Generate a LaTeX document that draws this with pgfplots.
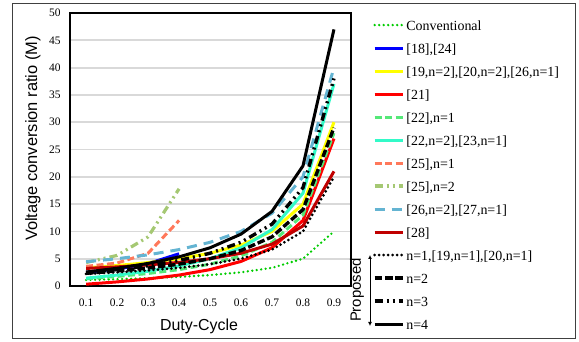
\documentclass[border=0pt]{standalone}
\usepackage{fontspec}
\setmainfont{Liberation Serif}
\setsansfont{Liberation Sans}
\usepackage{pgfplots}
\pgfplotsset{compat=1.18}
\usetikzlibrary{arrows.meta}
\definecolor{cgreen}{RGB}{0,204,0}
\definecolor{cblue}{RGB}{0,0,255}
\definecolor{cyellow}{RGB}{255,255,0}
\definecolor{cred}{RGB}{255,0,0}
\definecolor{clgreen}{RGB}{85,232,120}
\definecolor{caqua}{RGB}{51,250,200}
\definecolor{csalmon}{RGB}{255,120,90}
\definecolor{colive}{RGB}{165,200,115}
\definecolor{clblue}{RGB}{100,180,210}
\definecolor{cdred}{RGB}{192,0,0}
\definecolor{cgrid}{RGB}{217,217,217}
\newcommand{\legfont}{\fontsize{14}{14}\selectfont}
\tikzset{
  dotsty/.style={line width=2.6bp, dash pattern=on 0bp off 4.5bp, line cap=round},
  dashsty/.style={line width=3bp, dash pattern=on 7bp off 3.5bp},
  ldashsty/.style={line width=3bp, dash pattern=on 10bp off 7bp},
  ddsty/.style={line width=3.2bp, dash pattern=on 8bp off 4bp on 2bp off 4bp on 2bp off 4bp},
  solsty/.style={line width=3bp},
}
\begin{document}
\begin{tikzpicture}
\useasboundingbox (0,0) rectangle (579bp,342bp);
\draw[line width=1bp, black!75] (12bp,3.5bp) rectangle (575bp,338bp);
\begin{axis}[
  at={(70bp,56bp)}, anchor=south west,
  scale only axis, width=281bp, height=273bp,
  xmin=0.048, xmax=0.955, ymin=0, ymax=50,
  xtick={0.1,0.2,0.3,0.4,0.5,0.6,0.7,0.8,0.9},
  xticklabels={0.1,0.2,0.3,0.4,0.5,0.6,0.7,0.8,0.9},
  ytick={0,5,10,15,20,25,30,35,40,45,50},
  major tick length=0pt,
  ymajorgrids, grid style={draw=cgrid, line width=1.8bp},
  axis line style={line width=1.6bp},
  tick label style={font=\fontsize{11.5}{11.5}\selectfont},
  /pgf/number format/assume math mode=true,
  xticklabel style={yshift=-9.5bp},
  yticklabel style={xshift=-6bp},
  xlabel={Duty-Cycle},
  xlabel style={font=\sffamily\fontsize{16}{16}\selectfont, at={(axis description cs:0.459,-0.1648)}, anchor=base},
  ylabel={Voltage conversion ratio (M)},
  ylabel style={font=\sffamily\fontsize{16.5}{16.5}\selectfont, at={(axis description cs:-0.1174,0.54)}, anchor=base},
  legend cell align=left,
  legend style={at={(axis description cs:1.0783,0.9769)}, anchor=north west, draw=none, fill=none,
    inner sep=0pt, outer sep=0pt, font=\legfont, row sep=11.6bp,
    nodes={inner sep=0pt, text height=11.4bp, text depth=0bp, font=\legfont},
    /tikz/every odd column/.style={column sep=2bp}},
  every axis plot post/.append style={legend image code/.code={\draw[##1] (0bp,0bp) -- (28bp,0bp);}},
]
\addplot[cgreen, dotsty] coordinates {(0.1,1.11) (0.2,1.25) (0.3,1.43) (0.4,1.67) (0.5,2.00) (0.6,2.50) (0.7,3.33) (0.8,5.00) (0.9,10.00)};
\addlegendentry{Conventional}
\addplot[cblue, solsty] coordinates {(0.1,2.5) (0.2,3.1) (0.3,4.1) (0.4,5.9)};
\addlegendentry{[18],[24]}
\addplot[cyellow, solsty] coordinates {(0.1,3.33) (0.2,3.75) (0.3,4.29) (0.4,5.00) (0.5,6.00) (0.6,7.50) (0.7,10.00) (0.8,15.00) (0.9,30.00)};
\addlegendentry{[19,n=2],[20,n=2],[26,n=1]}
\addplot[cred, solsty] coordinates {(0.1,0.33) (0.2,0.75) (0.3,1.29) (0.4,2.00) (0.5,3.00) (0.6,4.50) (0.7,7.00) (0.8,12.00) (0.9,27.00)};
\addlegendentry{[21]}
\addplot[clgreen, dashsty] coordinates {(0.1,1.33) (0.2,1.75) (0.3,2.29) (0.4,3.00) (0.5,4.00) (0.6,5.50) (0.7,8.00) (0.8,13.00) (0.9,28.00)};
\addlegendentry{[22],n=1}
\addplot[caqua, solsty] coordinates {(0.1,1.44) (0.2,2.00) (0.3,2.71) (0.4,3.67) (0.5,5.00) (0.6,7.00) (0.7,10.33) (0.8,17.00) (0.9,37.00)};
\addlegendentry{[22,n=2],[23,n=1]}
\addplot[csalmon, dashsty] coordinates {(0.1,3.6) (0.2,4.2) (0.3,6.0) (0.4,12.0)};
\addlegendentry{[25],n=1}
\addplot[colive, ddsty] coordinates {(0.1,4.3) (0.2,5.6) (0.3,9.0) (0.4,17.8)};
\addlegendentry{[25],n=2}
\addplot[clblue, ldashsty] coordinates {(0.1,4.44) (0.2,5.00) (0.3,5.71) (0.4,6.67) (0.5,8.00) (0.6,10.00) (0.7,13.33) (0.8,20.00) (0.9,40.00)};
\addlegendentry{[26,n=2],[27,n=1]}
\addplot[cdred, solsty] coordinates {(0.1,3.22) (0.2,3.50) (0.3,3.86) (0.4,4.33) (0.5,5.00) (0.6,6.00) (0.7,7.67) (0.8,11.00) (0.9,21.00)};
\addlegendentry{[28]}
\addplot[black, dotsty, line width=3bp] coordinates {(0.1,2.22) (0.2,2.50) (0.3,2.86) (0.4,3.33) (0.5,4.00) (0.6,5.00) (0.7,6.67) (0.8,10.00) (0.9,20.00)};
\addlegendentry{n=1,[19,n=1],[20,n=1]}
\addplot[black, line width=3.4bp, dash pattern=on 7.5bp off 2.8bp] coordinates {(0.1,2.33) (0.2,2.75) (0.3,3.29) (0.4,4.00) (0.5,5.00) (0.6,6.50) (0.7,9.00) (0.8,14.00) (0.9,29.00)};
\addlegendentry{n=2}
\addplot[black, ddsty, line width=3.4bp] coordinates {(0.1,2.44) (0.2,3.00) (0.3,3.71) (0.4,4.67) (0.5,6.00) (0.6,8.00) (0.7,11.33) (0.8,18.00) (0.9,38.00)};
\addlegendentry{n=3}
\addplot[black, solsty] coordinates {(0.1,2.56) (0.2,3.25) (0.3,4.14) (0.4,5.33) (0.5,7.00) (0.6,9.50) (0.7,13.67) (0.8,22.00) (0.9,47.00)};
\addlegendentry{n=4}
\end{axis}
\draw[line width=0.8bp, {Latex[length=4bp,width=4bp]}-{Latex[length=4bp,width=4bp]}] (370bp,87bp) -- (370bp,16bp);
\node[rotate=90, font=\sffamily\fontsize{15}{15}\selectfont, inner sep=0pt] at (357bp,52bp) {Proposed};
\end{tikzpicture}
\end{document}
